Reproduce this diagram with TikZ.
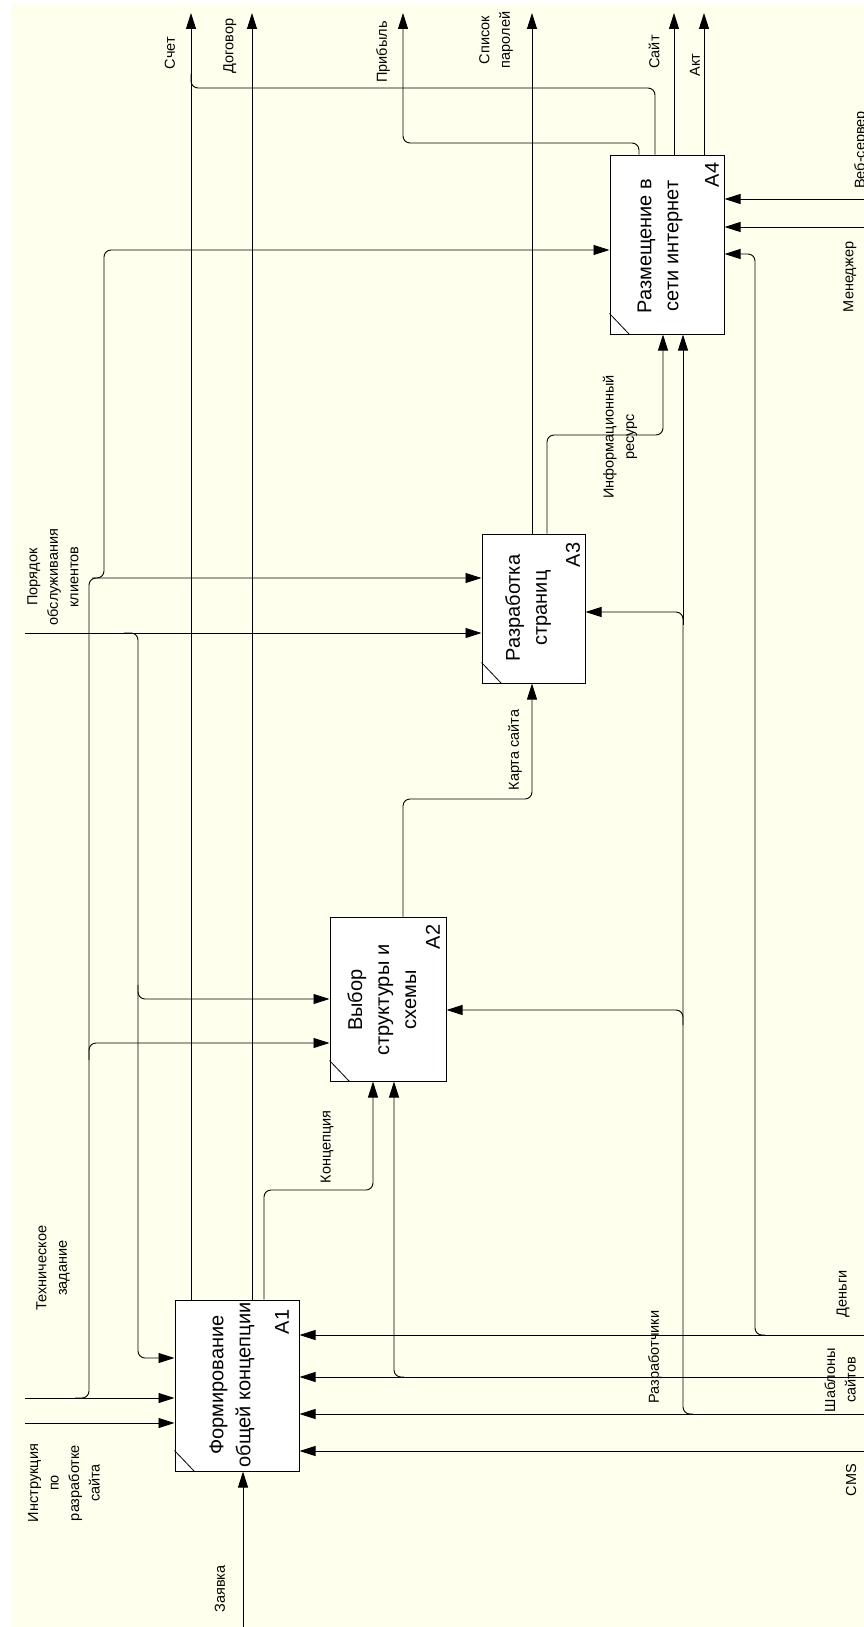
\documentclass[tikz,border=0pt]{standalone}
\usepackage{fontspec}
\setmainfont{Liberation Sans}
\usetikzlibrary{arrows.meta,calc}
\definecolor{bgcream}{RGB}{255,255,238}
\begin{document}
\begin{tikzpicture}[x=1pt,y=-1pt,
  fn/.style={draw=black, fill=white, line width=1pt, inner sep=0pt},
  ln/.style={line width=0.9pt, draw=black, rounded corners=7pt},
  ar/.style={ln, -{Triangle[length=16pt,width=10pt]}},
  lbl/.style={rotate=90, font=\fontsize{14.5}{20.5}\selectfont, align=center, inner sep=0pt},
  btxt/.style={rotate=90, font=\fontsize{20}{27}\selectfont, align=center, inner sep=0pt}]
\useasboundingbox (0,0) rectangle (864,1627);
\fill[white] (0,0) rectangle (864,1627);
\fill[bgcream] (11,4) rectangle (864,1627);
\clip (0,0) rectangle (864,1627);

% activity boxes
\node[fn, minimum width=124pt, minimum height=171pt] (A1) at (237,1385.5) {};
\node[fn, minimum width=116pt, minimum height=164pt] (A2) at (388,999) {};
\node[fn, minimum width=103pt, minimum height=149pt] (A3) at (533.5,608.5) {};
\node[fn, minimum width=114pt, minimum height=179pt] (A4) at (667,244.5) {};
\foreach \b in {A1,A2,A3,A4}{
  \draw[line width=0.8pt] ($(\b.south west)+(0,-21)$) -- ($(\b.south west)+(20,0)$);
}

% Заявка
\coordinate (zIn) at (243,1627);
\draw[ar] (zIn) -- (zIn |- A1.south);
% Инструкция
\coordinate (iIn) at (25,1423);
\draw[ar] (iIn) -- (iIn -| A1.west);
% Техническое задание
\coordinate (tIn) at (25,1398);
\draw[ar] (tIn) -- (tIn -| A1.west);
\draw[ar] (75,1398) -- (89,1398) -- (89,1043) -- (A2.west |- 0,1043);
\draw[ar] (89,1060) -- (89,578) -- (A3.west |- 0,578);
\draw[ar] (92,578) -- (104,578) -- (104,250) -- (A4.west |- 0,250);
% Порядок обслуживания клиентов
\coordinate (pIn) at (25,633);
\draw[ar] (pIn) -- (pIn -| A3.west);
\draw[ar] (124,633) -- (138,633) -- (138,999) -- (A2.west |- 0,999);
\draw[ar] (138,985) -- (138,1358) -- (A1.west |- 0,1358);

% outputs to top
\draw[ar] (A1.north -| 191,0) -- (191,13);
\draw[ln] (A4.north -| 655,0) -- (655,88) -- (191,88) -- (191,74);
\draw[ar] (A1.north -| 252,0) -- (252,13);
\draw[ar] (A4.north -| 639,0) -- (639,143) -- (403,143) -- (403,13);
\draw[ar] (A3.north -| 532,0) -- (532,13);
\draw[ar] (A4.north -| 674,0) -- (674,13);
\draw[ar] (A4.north -| 704,0) -- (704,13);

% internal flows
\draw[ar] (A1.north -| 264,0) -- (264,1190) -- (373,1190) -- (A2.south -| 373,0);
\draw[ar] (A2.north -| 403,0) -- (403,799) -- (532,799) -- (A3.south -| 532,0);
\draw[ar] (A3.north -| 547,0) -- (547,435) -- (663,435) -- (A4.south -| 663,0);

% from right
\draw[ar] (864,1335) -- (A1.east |- 0,1335);
\draw[ar] (765,1335) -- (755,1335) -- (755,254) -- (A4.east |- 0,254);
\draw[ar] (864,1377) -- (A1.east |- 0,1377);
\draw[ar] (404,1377) -- (394,1377) -- (A2.south -| 394,0);
\draw[ar] (864,1414) -- (A1.east |- 0,1414);
\draw[ar] (693,1414) -- (683,1414) -- (683,1010) -- (A2.east |- 0,1010);
\draw[ar] (683,1025) -- (683,612) -- (A3.east |- 0,612);
\draw[ar] (683,625) -- (A4.south -| 683,0);
\draw[ar] (864,1451) -- (A1.east |- 0,1451);
\draw[ar] (864,199) -- (A4.east |- 0,199);
\draw[ar] (864,227) -- (A4.east |- 0,227);

% box texts
\node[btxt] (t1) at (232,1385) {Формирование\\общей концепции};
\node[btxt] (t2) at (382,1000) {Выбор\\структуры и\\схемы};
\node[btxt] (t3) at (528,608) {Разработка\\страниц};
\node[btxt] (t4) at (660,246) {Размещение в\\сети интернет};
\node[btxt] (n1) at (282,1322) {A1};
\node[btxt] (n2) at (433,937) {A2};
\node[btxt] (n3) at (573,555) {A3};
\node[btxt] (n4) at (712,175) {A4};

% labels
\node[lbl] (l1) at (220,1589) {Заявка};
\node[lbl] (l2) at (64,1483) {Инструкция\\по\\разработке\\сайта};
\node[lbl] (l3) at (53,1268) {Техническое\\задание};
\node[lbl] (l4) at (53,577) {Порядок\\обслуживания\\клиентов};
\node[lbl] (l5) at (170,53) {Счет};
\node[lbl] (l6) at (230,46) {Договор};
\node[lbl] (l7) at (383,52) {Прибыль};
\node[lbl] (l8) at (496,40) {Список\\паролей};
\node[lbl] (l9) at (654,52) {Сайт};
\node[lbl] (l10) at (695,65) {Акт};
\node[lbl] (l11) at (327,1147) {Концепция};
\node[lbl] (l12) at (515,750) {Карта сайта};
\node[lbl] (l13) at (620,437) {Информационный\\ресурс};
\node[lbl] (l14) at (861,150) {Веб-сервер};
\node[lbl] (l15) at (850,277) {Менеджер};
\node[lbl] (l16) at (843,1294) {Деньги};
\node[lbl] (l17) at (840,1380) {Шаблоны\\сайтов};
\node[lbl] (l18) at (851,1480) {CMS};
\node[lbl] (l19) at (655,1357) {Разработчики};
\end{tikzpicture}
\end{document}
